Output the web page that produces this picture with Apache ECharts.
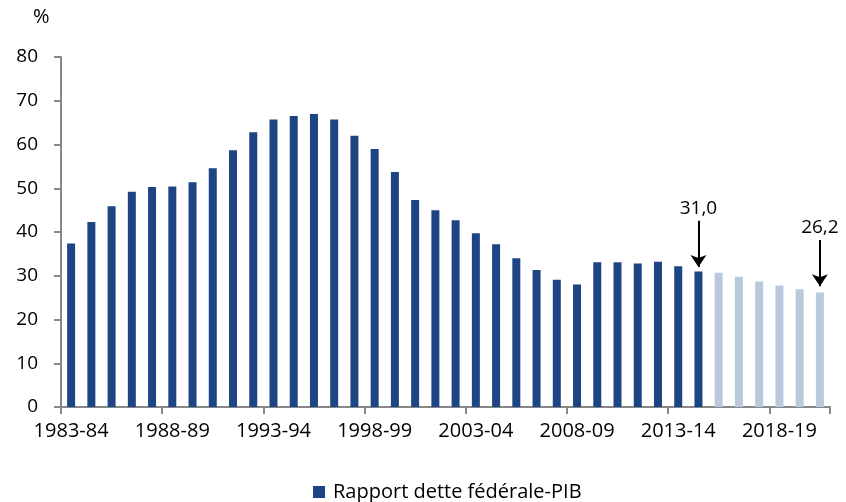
<!DOCTYPE html>
<html>
<head>
<meta charset="utf-8">
<script src="https://cdn.jsdelivr.net/npm/echarts@6/dist/echarts.min.js"></script>
<style>
html,body{margin:0;padding:0;background:#fff;}
#chart{width:846px;height:502px;}
</style>
</head>
<body>
<div id="chart"></div>
<script>
const categories = ["1983-84","1984-85","1985-86","1986-87","1987-88","1988-89","1989-90","1990-91","1991-92","1992-93",
  "1993-94","1994-95","1995-96","1996-97","1997-98","1998-99","1999-00","2000-01","2001-02","2002-03",
  "2003-04","2004-05","2005-06","2006-07","2007-08","2008-09","2009-10","2010-11","2011-12","2012-13",
  "2013-14","2014-15","2015-16","2016-17","2017-18","2018-19","2019-20","2020-21"];
const actualValues = [37.4,42.3,45.9,49.2,50.3,50.4,51.4,54.6,58.7,62.8,
  65.7,66.5,67.0,65.7,62.0,59.0,53.7,47.3,45.0,42.7,
  39.7,37.2,34.0,31.3,29.1,28.0,33.1,33.1,32.8,33.2,
  32.2,31.0];
const projectedValues = [30.7,29.8,28.7,27.8,26.9,26.2];
const annotations = [
  {category:"2014-15", value:31.0, text:"31,0", arrowTop:42.6, arrowTip:32.0},
  {category:"2020-21", value:26.2, text:"26,2", arrowTop:38.2, arrowTip:27.6}
];
const yTicks = [0,10,20,30,40,50,60,70,80];
const seriesName = "Rapport dette fédérale-PIB";

const DARK = "#1D4483";
const LIGHT = "#B9C8DB";
const FONT = "Open Sans";

const barData = actualValues.map(v => ({value:v, itemStyle:{color:DARK}}))
  .concat(projectedValues.map(v => ({value:v, itemStyle:{color:LIGHT}})));

const markLineData = annotations.map(a => [
  {coord:[a.category, a.arrowTop], label:{show:true, position:'start', formatter:a.text, distance:3,
    color:'#000', fontSize:19, fontFamily:FONT}},
  {coord:[a.category, a.arrowTip]}
]);

const chart = echarts.init(document.getElementById('chart'), null, {renderer:'canvas'});
chart.setOption({
  animation:false,
  backgroundColor:'#fff',
  textStyle:{fontFamily:FONT},
  title:{text:'%', left:28, top:2, textStyle:{fontSize:20, fontWeight:'normal', color:'#000', fontFamily:FONT}},
  grid:{left:61, right:16, top:57, bottom:95, containLabel:false},
  legend:{top:477, left:308, icon:'rect', itemWidth:12, itemHeight:12, itemGap:8,
    textStyle:{fontSize:20, color:'#000', fontFamily:FONT, padding:[0,0,0,3]}, data:[seriesName]},
  xAxis:{type:'category', data:categories, boundaryGap:true,
    axisLine:{lineStyle:{color:'#878787', width:2}},
    axisTick:{show:true, interval:4, length:7, lineStyle:{color:'#878787', width:2}},
    axisLabel:{interval:4, fontSize:20, color:'#000', margin:14, fontFamily:FONT}},
  yAxis:{type:'value', min:0, max:80, interval:10,
    splitLine:{show:false},
    axisLine:{show:true, lineStyle:{color:'#878787', width:2}},
    axisTick:{show:true, length:7, lineStyle:{color:'#878787', width:2}},
    axisLabel:{fontSize:19, color:'#000', margin:23, fontFamily:FONT,
      formatter: v => yTicks.includes(v) ? String(v) : ''}},
  series:[{
    name:seriesName, type:'bar', barWidth:8,
    itemStyle:{color:DARK},
    data:barData,
    markLine:{silent:true, symbol:['none','arrow'], symbolSize:12,
      lineStyle:{color:'#000', width:2, type:'solid'},
      data:markLineData}
  }]
});
</script>
</body>
</html>
